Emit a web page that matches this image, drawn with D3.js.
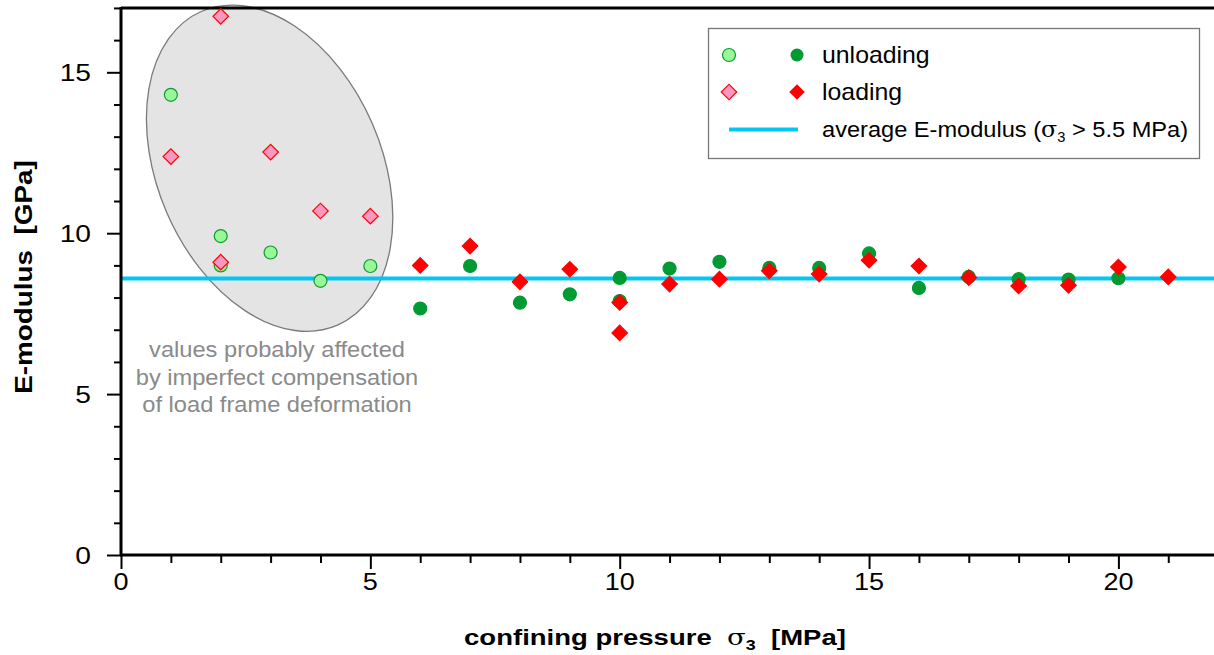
<!DOCTYPE html>
<html>
<head>
<meta charset="utf-8">
<script src="https://cdn.jsdelivr.net/npm/d3@7"></script>
<style>
  body { margin: 0; background: #fff; }
  text { font-family: "Liberation Sans", Arial, sans-serif; white-space: pre; }
</style>
</head>
<body>
<div id="chart"></div>
<script>
// values affected by load frame compensation (sigma3 <= 5)
const earlyUnloadX = [1, 2, 2, 3, 4, 5];
const earlyUnloadE = [14.3, 9.91, 9.0, 9.4, 8.52, 8.98];
const earlyLoadX = [1, 2, 2, 3, 4, 5];
const earlyLoadE = [12.38, 16.74, 9.1, 12.52, 10.69, 10.53];

// regular values
const unloadX = [6, 7, 8, 9, 10, 10, 11, 12, 13, 14, 15, 16, 17, 18, 19, 20];
const unloadE = [7.66, 8.98, 7.84, 8.1, 8.61, 7.89, 8.9, 9.11, 8.92, 8.92, 9.37, 8.3, 8.64, 8.57, 8.56, 8.6];
const loadX = [6, 7, 8, 9, 10, 10, 11, 12, 13, 14, 15, 16, 17, 18, 19, 20, 21];
const loadE = [9.0, 9.6, 8.49, 8.88, 7.85, 6.9, 8.42, 8.57, 8.83, 8.73, 9.16, 8.98, 8.62, 8.36, 8.38, 8.95, 8.64];

const avgE = 8.59;
const xTicks = [0, 5, 10, 15, 20];
const yTicks = [0, 5, 10, 15];
const noteLines = ['values probably affected', 'by imperfect compensation', 'of load frame deformation'];

const width = 1214, height = 655,
  margin = { left: 121, top: 8, right: 0, bottom: 100 };

const svg = d3.select('#chart').append('svg')
  .attr('width', width)
  .attr('height', height);

const x = d3.scaleLinear().domain([0, 21.9]).range([margin.left, margin.left + 21.9 * 49.87]);
const y = d3.scaleLinear().domain([0, 17]).range([555, 555 - 17 * 32.18]);

const zip = (xs, ys) => xs.map((v, i) => ({ x: v, e: ys[i] }));

// text is a bit wider than plain Arial in the original
const stretched = (parent, px, py, sx, size) => parent.append('text')
  .attr('transform', `translate(${px},${py}) scale(${sx},1)`)
  .attr('font-size', size)
  .attr('fill', '#000');

// ellipse around the early values
const ec = { x: x(2.98), y: y(12.02) };
svg.append('ellipse')
  .attr('cx', ec.x).attr('cy', ec.y)
  .attr('rx', 112).attr('ry', 171)
  .attr('transform', `rotate(-23.4, ${ec.x}, ${ec.y})`)
  .attr('fill', '#e4e4e4')
  .attr('stroke', '#7a7a7a')
  .attr('stroke-width', 1.3);

noteLines.forEach((line, i) => {
  stretched(svg, 277, 357 + i * 27.5, 1.1, 21.5)
    .attr('text-anchor', 'middle')
    .attr('fill', '#8a8a8a')
    .text(line);
});

// average line
svg.append('line')
  .attr('x1', margin.left).attr('x2', width)
  .attr('y1', y(avgE)).attr('y2', y(avgE))
  .attr('stroke', '#00c8f5')
  .attr('stroke-width', 4);

// axes
const xAxis = svg.append('g').attr('transform', `translate(0,${y(0)})`);
xAxis.call(d3.axisBottom(x).tickValues(d3.range(0, 22)).tickSize(8).tickFormat(''))
  .call(g => g.select('.domain').remove());
xAxis.selectAll('.tick line').attr('stroke-width', 2)
  .attr('y2', d => xTicks.includes(d) ? 14 : 8);
xTicks.forEach(t => {
  stretched(xAxis, x(t), 35, 1.15, 23.5)
    .attr('text-anchor', 'middle')
    .text(t);
});
xAxis.append('line')
  .attr('x1', margin.left - 1).attr('x2', width)
  .attr('stroke', '#000').attr('stroke-width', 3);

const yAxis = svg.append('g').attr('transform', `translate(${margin.left},0)`);
yAxis.call(d3.axisLeft(y).tickValues(d3.range(0, 18)).tickSize(8).tickFormat(''))
  .call(g => g.select('.domain').remove());
yAxis.selectAll('.tick line').attr('stroke-width', 2)
  .attr('x2', d => yTicks.includes(d) ? -14 : -7);
yTicks.forEach(t => {
  stretched(yAxis, -30, y(t) + 9, 1.2, 23.5)
    .attr('text-anchor', 'end')
    .text(t);
});
yAxis.append('line')
  .attr('y1', y(0) + 1).attr('y2', y(17) - 1)
  .attr('stroke', '#000').attr('stroke-width', 3);

// top frame
svg.append('line')
  .attr('x1', margin.left).attr('x2', width)
  .attr('y1', y(17)).attr('y2', y(17))
  .attr('stroke', '#000').attr('stroke-width', 3);

// axis titles
const xTitle = stretched(svg, 655, 645, 1.28, 21.5)
  .attr('text-anchor', 'middle')
  .attr('font-weight', 'bold');
xTitle.append('tspan').text('confining pressure  ');
xTitle.append('tspan').attr('font-family', 'DejaVu Serif, serif').attr('font-weight', 'normal').text('σ');
xTitle.append('tspan').attr('font-size', 14).attr('dy', 5).text('3');
xTitle.append('tspan').attr('dy', -5).text('  [MPa]');

svg.append('text')
  .attr('transform', 'translate(32,277) rotate(-90) scale(1.16,1)')
  .attr('text-anchor', 'middle')
  .attr('font-size', 24)
  .attr('font-weight', 'bold')
  .text('E-modulus  [GPa]');

// markers
const diamond = d3.symbol().type(d3.symbolSquare).size(120);
const drawCircles = (data, fill, stroke) => svg.append('g')
  .selectAll('circle').data(data).enter().append('circle')
  .attr('cx', d => x(d.x)).attr('cy', d => y(d.e))
  .attr('r', 6.5)
  .attr('fill', fill).attr('stroke', stroke).attr('stroke-width', 1.2);
const drawDiamonds = (data, fill, stroke) => svg.append('g')
  .selectAll('path').data(data).enter().append('path')
  .attr('d', diamond)
  .attr('transform', d => `translate(${x(d.x)},${y(d.e)}) rotate(45)`)
  .attr('fill', fill).attr('stroke', stroke).attr('stroke-width', 1.2);

drawCircles(zip(earlyUnloadX, earlyUnloadE), '#98f898', '#109a30');
drawDiamonds(zip(earlyLoadX, earlyLoadE), '#f898c0', '#ff0000');
drawCircles(zip(unloadX, unloadE), '#009a33', '#009a33');
drawDiamonds(zip(loadX, loadE), '#ff0000', '#ff0000');

// legend
const lg = svg.append('g');
lg.append('rect')
  .attr('x', 708.5).attr('y', 28.5).attr('width', 491).attr('height', 130)
  .attr('fill', '#fff').attr('stroke', '#777').attr('stroke-width', 1.3);
const legendRows = [
  { label: 'unloading', y: 55 },
  { label: 'loading', y: 92 }
];
lg.append('circle').attr('cx', 729).attr('cy', 55).attr('r', 6.5)
  .attr('fill', '#98f898').attr('stroke', '#109a30').attr('stroke-width', 1.2);
lg.append('circle').attr('cx', 797).attr('cy', 55).attr('r', 6.5)
  .attr('fill', '#009a33');
lg.append('path').attr('d', diamond).attr('transform', 'translate(729,92) rotate(45)')
  .attr('fill', '#f898c0').attr('stroke', '#ff0000').attr('stroke-width', 1.2);
lg.append('path').attr('d', diamond).attr('transform', 'translate(797,92) rotate(45)')
  .attr('fill', '#ff0000');
legendRows.forEach(r => {
  stretched(lg, 822, r.y + 8, 1.08, 23).text(r.label);
});
lg.append('line').attr('x1', 729).attr('x2', 798).attr('y1', 129.5).attr('y2', 129.5)
  .attr('stroke', '#00c8f5').attr('stroke-width', 4);
const avgLab = stretched(lg, 822, 137, 1.05, 22.5);
avgLab.append('tspan').text('average E-modulus (');
avgLab.append('tspan').attr('font-family', 'DejaVu Serif, serif').text('σ');
avgLab.append('tspan').attr('font-size', 14).attr('dy', 5).text('3');
avgLab.append('tspan').attr('dy', -5).text(' > 5.5 MPa)');
</script>
</body>
</html>
